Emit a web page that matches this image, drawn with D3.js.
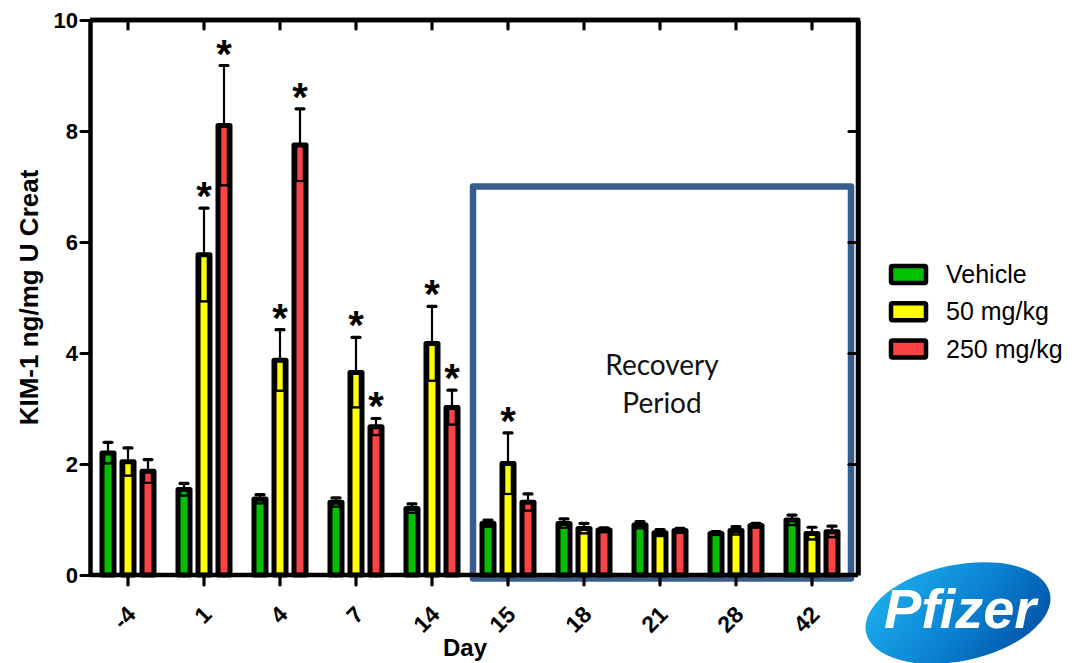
<!DOCTYPE html>
<html>
<head>
<meta charset="utf-8">
<script src="https://cdn.jsdelivr.net/npm/d3@7/dist/d3.min.js"></script>
<style>
  html, body { margin: 0; padding: 0; background: #fff; }
  svg { display: block; }
  text { font-family: "Liberation Sans", Arial, sans-serif; }
</style>
</head>
<body>
<svg id="chart" width="1088" height="663"></svg>
<script>
// ---------------- data ----------------
const categories = ["-4", "1", "4", "7", "14", "15", "18", "21", "28", "42"];
const seriesNames = ["Vehicle", "50 mg/kg", "250 mg/kg"];
const seriesColors = ["#00c000", "#ffff00", "#fc4242"];

const vehicleMean = [2.20, 1.54, 1.37, 1.31, 1.20, 0.93, 0.93, 0.90, 0.75, 0.99];
const vehicleSEM  = [0.19, 0.11, 0.08, 0.08, 0.08, 0.06, 0.08, 0.06, 0.03, 0.09];
const mg50Mean    = [2.04, 5.77, 3.87, 3.65, 4.17, 2.01, 0.84, 0.76, 0.80, 0.75];
const mg50SEM     = [0.25, 0.84, 0.55, 0.63, 0.67, 0.55, 0.09, 0.06, 0.07, 0.11];
const mg250Mean   = [1.87, 8.10, 7.75, 2.67, 3.02, 1.31, 0.81, 0.80, 0.89, 0.78];
const mg250SEM    = [0.21, 1.08, 0.65, 0.15, 0.31, 0.15, 0.04, 0.04, 0.04, 0.10];

const vehicleSig  = [0, 0, 0, 0, 0, 0, 0, 0, 0, 0];
const mg50Sig     = [0, 1, 1, 1, 1, 1, 0, 0, 0, 0];
const mg250Sig    = [0, 1, 1, 1, 1, 0, 0, 0, 0, 0];

const yTicks = [0, 2, 4, 6, 8, 10];
const recoveryStartDay = "15";
const recoveryEndDay = "42";
const recoveryTop = 7;

// ---------------- build ----------------
const means = [vehicleMean, mg50Mean, mg250Mean];
const sems = [vehicleSEM, mg50SEM, mg250SEM];
const sigs = [vehicleSig, mg50Sig, mg250Sig];

const rows = [];
categories.forEach((c, i) => {
  seriesNames.forEach((s, j) => {
    rows.push({ cat: c, series: s, si: j, mean: means[j][i], sem: sems[j][i], sig: sigs[j][i] });
  });
});

const svg = d3.select("#chart");
const L = 90, R = 858, T = 20, B = 575;

const x = d3.scaleBand().domain(categories).range([L, 850]);
const xs = d3.scaleBand().domain(seriesNames).range([-30, 30]).paddingInner(0.15).paddingOuter(0.075);
const y = d3.scaleLinear().domain([0, 10]).range([B, T]);

// Recovery box (behind axes)
const boxLeft = x(recoveryStartDay) + 3;
const boxRight = x(recoveryEndDay) + x.bandwidth() + 1;
svg.append("path")
  .attr("d", `M${boxLeft},${B + 3.5} L${boxLeft},${y(recoveryTop)} L${boxRight},${y(recoveryTop)} L${boxRight},${B + 3.5} Z`)
  .attr("fill", "none")
  .attr("stroke", "#3a5e8c")
  .attr("stroke-width", 6.5)
  .attr("stroke-linejoin", "round");

svg.append("text")
  .attr("x", (boxLeft + boxRight) / 2)
  .attr("y", 375)
  .attr("text-anchor", "middle")
  .style("font-family", "Lato, 'Open Sans', sans-serif")
  .style("font-size", "28px")
  .attr("fill", "#111")
  .selectAll("tspan")
  .data(["Recovery", "Period"])
  .join("tspan")
  .attr("x", (boxLeft + boxRight) / 2)
  .attr("dy", (d, i) => i === 0 ? 0 : 38)
  .text(d => d);

// Bars
const g = svg.append("g");
const bw = xs.bandwidth();
const cx = d => x(d.cat) + x.bandwidth() / 2 + xs(d.series) + bw / 2;

g.selectAll("rect.bar")
  .data(rows)
  .join("rect")
  .attr("class", "bar")
  .attr("x", d => cx(d) - (bw - 5) / 2)
  .attr("width", bw - 5)
  .attr("y", d => y(d.mean))
  .attr("height", d => y(0) - y(d.mean))
  .attr("fill", d => seriesColors[d.si])
  .attr("stroke", "#000")
  .attr("stroke-width", 5)
  .attr("stroke-linejoin", "round");

// lower error (inside the bar)
g.selectAll("rect.lowerr")
  .data(rows)
  .join("rect")
  .attr("class", "lowerr")
  .attr("x", d => cx(d) - 3.5)
  .attr("width", 7)
  .attr("y", d => y(d.mean))
  .attr("height", d => y(d.mean - d.sem) - y(d.mean))
  .attr("fill", "none")
  .attr("stroke", "#000")
  .attr("stroke-width", 1.6);
g.selectAll("line.lowcap")
  .data(rows)
  .join("line")
  .attr("class", "lowcap")
  .attr("x1", d => cx(d) - (bw - 9) / 2)
  .attr("x2", d => cx(d) + (bw - 9) / 2)
  .attr("y1", d => y(d.mean - d.sem))
  .attr("y2", d => y(d.mean - d.sem))
  .attr("stroke", "#000")
  .attr("stroke-width", 2.2);

// upper error
g.selectAll("line.uperr")
  .data(rows)
  .join("line")
  .attr("class", "uperr")
  .attr("x1", cx).attr("x2", cx)
  .attr("y1", d => y(d.mean))
  .attr("y2", d => y(d.mean + d.sem))
  .attr("stroke", "#000")
  .attr("stroke-width", 2.2);
g.selectAll("line.upcap")
  .data(rows)
  .join("line")
  .attr("class", "upcap")
  .attr("x1", d => cx(d) - 4)
  .attr("x2", d => cx(d) + 4)
  .attr("y1", d => y(d.mean + d.sem))
  .attr("y2", d => y(d.mean + d.sem))
  .attr("stroke", "#000")
  .attr("stroke-width", 3.2)
  .attr("stroke-linecap", "round");

// significance stars
g.selectAll("text.star")
  .data(rows.filter(d => d.sig))
  .join("text")
  .attr("class", "star")
  .attr("x", cx)
  .attr("y", d => y(d.mean + d.sem) + 2)
  .attr("text-anchor", "middle")
  .style("font-size", "40px")
  .style("font-weight", "bold")
  .attr("fill", "#000")
  .text("*");

// ---------------- axes ----------------
const styleAxis = sel => {
  sel.select(".domain").attr("stroke", "#000").attr("stroke-width", 4.5);
  sel.selectAll(".tick line").attr("stroke", "#000").attr("stroke-width", 3.2).attr("stroke-linecap", "round");
};

// left axis
const yAxis = svg.append("g").attr("transform", `translate(${L},0)`)
  .call(d3.axisLeft(y).tickValues(yTicks).tickSize(9).tickSizeOuter(0).tickPadding(3));
styleAxis(yAxis);
yAxis.selectAll(".tick text").style("font-size", "22px").style("font-weight", "bold").attr("fill", "#000");

// right axis (inward ticks)
const yAxisR = svg.append("g").attr("transform", `translate(${R},0)`)
  .call(d3.axisRight(y).tickValues(yTicks.slice(1, -1)).tickSize(-9).tickSizeOuter(0).tickFormat(""));
styleAxis(yAxisR);

// top axis (inward ticks)
const xAxisT = svg.append("g").attr("transform", `translate(0,${T})`)
  .call(d3.axisTop(x).tickSize(-9).tickSizeOuter(0).tickFormat(""));
xAxisT.select(".domain").attr("d", `M${L},0H${R}`);
styleAxis(xAxisT);

// bottom axis
const xAxisB = svg.append("g").attr("transform", `translate(0,${B})`)
  .call(d3.axisBottom(x).tickSize(10).tickSizeOuter(0));
xAxisB.select(".domain").attr("d", `M${L},0H${R}`);
styleAxis(xAxisB);
xAxisB.selectAll(".tick text")
  .attr("text-anchor", "end")
  .attr("y", 0)
  .attr("dy", 0)
  .attr("transform", "translate(9,41) rotate(-45)")
  .style("font-size", "23px")
  .style("font-weight", "bold")
  .attr("fill", "#000");

// corners
svg.append("path")
  .attr("d", `M${L},${T}H${R}V${B}`)
  .attr("fill", "none").attr("stroke", "#000").attr("stroke-width", 4.5).attr("stroke-linejoin", "miter");

// axis titles
svg.append("text")
  .attr("x", (L + R) / 2 - 9)
  .attr("y", 656)
  .attr("text-anchor", "middle")
  .style("font-size", "24px")
  .style("font-weight", "bold")
  .text("Day");

svg.append("text")
  .attr("transform", `translate(38,${(T + B) / 2}) rotate(-90)`)
  .attr("text-anchor", "middle")
  .style("font-size", "26px")
  .style("font-weight", "bold")
  .text("KIM-1 ng/mg U Creat");

// ---------------- legend ----------------
const leg = svg.append("g").attr("transform", "translate(891,266)");
const li = leg.selectAll("g").data(seriesNames).join("g")
  .attr("transform", (d, i) => `translate(0,${i * 37.3})`);
li.append("rect")
  .attr("width", 35).attr("height", 17)
  .attr("fill", (d, i) => seriesColors[i])
  .attr("stroke", "#000").attr("stroke-width", 4.5).attr("rx", 1.5);
li.append("text")
  .attr("x", 55).attr("y", 17)
  .style("font-size", "25px")
  .attr("fill", "#000")
  .text(d => d);

// ---------------- logo ----------------
const defs = svg.append("defs");
const grad = defs.append("linearGradient").attr("id", "pfz").attr("x1", "0%").attr("y1", "20%").attr("x2", "100%").attr("y2", "80%");
grad.append("stop").attr("offset", "0%").attr("stop-color", "#1db0ef");
grad.append("stop").attr("offset", "55%").attr("stop-color", "#0a80d0");
grad.append("stop").attr("offset", "100%").attr("stop-color", "#0050a4");
const logo = svg.append("g").attr("transform", "translate(958,613) rotate(-12)");
logo.append("ellipse").attr("rx", 94).attr("ry", 48).attr("fill", "url(#pfz)");
svg.append("text")
  .attr("x", 960).attr("y", 628)
  .attr("text-anchor", "middle")
  .style("font-size", "56px")
  .style("font-style", "italic")
  .style("font-weight", "bold")
  .attr("fill", "#fff")
  .attr("textLength", 152)
  .text("Pfizer");
</script>
</body>
</html>
